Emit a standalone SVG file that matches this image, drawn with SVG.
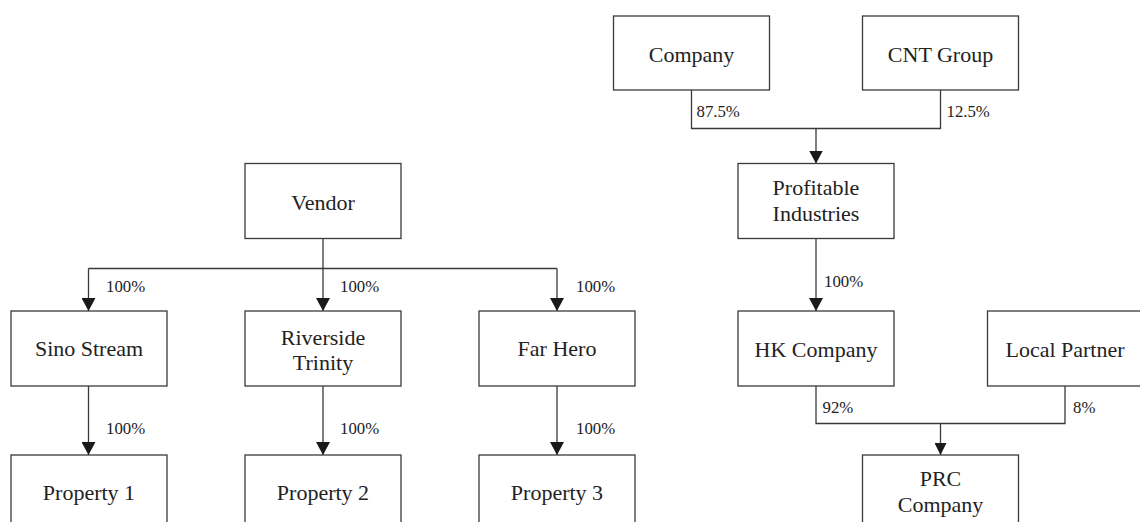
<svg xmlns="http://www.w3.org/2000/svg" width="1140" height="522" viewBox="0 0 1140 522">
<style>
.box{fill:#fff;stroke:#3a3a3a;stroke-width:1.3}
.t{font-family:"Liberation Serif","Times New Roman",serif;font-size:22px;fill:#222;text-anchor:middle}
.p{font-family:"Liberation Serif","Times New Roman",serif;font-size:16.8px;fill:#222}
.c{fill:none;stroke:#3a3a3a;stroke-width:1.3}
</style>
<defs>
<marker id="ah" markerUnits="userSpaceOnUse" markerWidth="14" markerHeight="13" refX="7" refY="13" viewBox="0 0 14 13">
<path d="M0,0 L14,0 L7,13 Z" fill="#1a1a1a"/>
</marker>
<marker id="ahs" markerUnits="userSpaceOnUse" markerWidth="12" markerHeight="12" refX="6" refY="12" viewBox="0 0 12 12">
<path d="M0,0 L12,0 L6,12 Z" fill="#1a1a1a"/>
</marker>
</defs>
<rect width="1140" height="522" fill="#fff"/>
<g id="connectors">
<path class="c" d="M323,238.5 V268.5"/>
<path class="c" d="M88.5,268.5 H557"/>
<path class="c" d="M88.5,268.5 V311" marker-end="url(#ah)"/>
<path class="c" d="M323,268.5 V311" marker-end="url(#ah)"/>
<path class="c" d="M557,268.5 V311" marker-end="url(#ah)"/>
<path class="c" d="M88.5,386 V455" marker-end="url(#ah)"/>
<path class="c" d="M323,386 V455" marker-end="url(#ah)"/>
<path class="c" d="M557,386 V455" marker-end="url(#ah)"/>
<path class="c" d="M691.5,90 V128.5 H940.5 V90"/>
<path class="c" d="M816,128.5 V163.5" marker-end="url(#ah)"/>
<path class="c" d="M816,238.5 V311" marker-end="url(#ah)"/>
<path class="c" d="M816,386 V423.5 H1065 V386"/>
<path class="c" d="M940.5,423.5 V455" marker-end="url(#ahs)"/>
<text class="p" x="106" y="292">100%</text>
<text class="p" x="340" y="292">100%</text>
<text class="p" x="576" y="292">100%</text>
<text class="p" x="106" y="433.5">100%</text>
<text class="p" x="340" y="433.5">100%</text>
<text class="p" x="576" y="433.5">100%</text>
<text class="p" x="696.5" y="116.5">87.5%</text>
<text class="p" x="946.5" y="116.5">12.5%</text>
<text class="p" x="824" y="287">100%</text>
<text class="p" x="822.5" y="412.5">92%</text>
<text class="p" x="1073" y="412.5">8%</text>
</g>
<g id="vendor"><rect class="box" x="245" y="163.5" width="156" height="75"/><text class="t" x="323" y="209.5">Vendor</text></g>
<g id="sino-stream"><rect class="box" x="11" y="311" width="156" height="75"/><text class="t" x="89" y="356">Sino Stream</text></g>
<g id="riverside-trinity"><rect class="box" x="245" y="311" width="156" height="75"/><text class="t" x="323" y="345">Riverside</text><text class="t" x="323" y="370">Trinity</text></g>
<g id="far-hero"><rect class="box" x="479" y="311" width="156" height="75"/><text class="t" x="557" y="356">Far Hero</text></g>
<g id="property-1"><rect class="box" x="11" y="455" width="156" height="75"/><text class="t" x="89" y="499.5">Property 1</text></g>
<g id="property-2"><rect class="box" x="245" y="455" width="156" height="75"/><text class="t" x="323" y="499.5">Property 2</text></g>
<g id="property-3"><rect class="box" x="479" y="455" width="156" height="75"/><text class="t" x="557" y="499.5">Property 3</text></g>
<g id="company"><rect class="box" x="613.5" y="16" width="156" height="74"/><text class="t" x="691.5" y="61.5">Company</text></g>
<g id="cnt-group"><rect class="box" x="862.5" y="16" width="156" height="74"/><text class="t" x="940.5" y="61.5">CNT Group</text></g>
<g id="profitable-industries"><rect class="box" x="738" y="163.5" width="156" height="75"/><text class="t" x="816" y="195">Profitable</text><text class="t" x="816" y="221">Industries</text></g>
<g id="hk-company"><rect class="box" x="738" y="311" width="156" height="75"/><text class="t" x="816" y="357">HK Company</text></g>
<g id="local-partner"><rect class="box" x="987.5" y="311" width="156" height="75"/><text class="t" x="1065" y="357">Local Partner</text></g>
<g id="prc-company"><rect class="box" x="862.5" y="455" width="156" height="75"/><text class="t" x="940.5" y="486">PRC</text><text class="t" x="940.5" y="512">Company</text></g>
</svg>
